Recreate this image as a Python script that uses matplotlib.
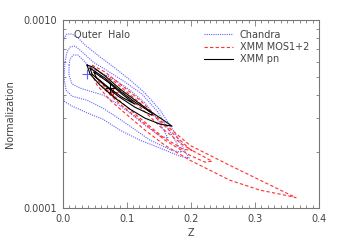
import matplotlib
matplotlib.use("Agg")
import matplotlib.pyplot as plt
from matplotlib.ticker import FixedLocator, MultipleLocator, NullFormatter

# contour outlines (z, normalization)
chandra_out_z = [0.0008, 0.0023, 0.007, 0.0148, 0.0242, 0.0351, 0.0585, 0.0819, 0.1053, 0.1287,
                 0.1521, 0.1754, 0.1926, 0.1973, 0.1832, 0.1521, 0.1209, 0.0897, 0.0632, 0.0398,
                 0.0148, 0.0023, 0.0008, 0.0008, 0.0008]
chandra_out_n = [7.36e-4, 8.02e-4, 8.42e-4, 8.42e-4, 8.02e-4, 7.36e-4, 6.36e-4, 5.55e-4, 4.80e-4, 4.09e-4,
                 3.32e-4, 2.51e-4, 1.96e-4, 1.85e-4, 1.89e-4, 2.09e-4, 2.30e-4, 2.60e-4, 2.97e-4, 3.20e-4,
                 3.49e-4, 3.71e-4, 4.24e-4, 6.13e-4, 7.36e-4]

chandra_mid_z = [0.0039, 0.007, 0.0117, 0.0195, 0.0273, 0.0476, 0.071, 0.0975, 0.124, 0.1489,
                 0.1708, 0.1864, 0.1708, 0.1365, 0.1053, 0.0819, 0.0632, 0.0382, 0.0148, 0.0055,
                 0.0023, 0.0039]
chandra_mid_n = [5.98e-4, 6.76e-4, 7.18e-4, 7.27e-4, 6.92e-4, 5.98e-4, 5.35e-4, 4.68e-4, 4.04e-4, 3.24e-4,
                 2.44e-4, 1.99e-4, 2.03e-4, 2.30e-4, 2.73e-4, 3.09e-4, 3.40e-4, 3.75e-4, 3.94e-4, 4.24e-4,
                 4.91e-4, 5.98e-4]

chandra_in_z = [0.0101, 0.0117, 0.0164, 0.0242, 0.032, 0.0429, 0.0585, 0.0819, 0.1053, 0.1287,
                0.1489, 0.1645, 0.1521, 0.1287, 0.1053, 0.0819, 0.0632, 0.0476, 0.0273, 0.0148,
                0.0101, 0.0101]
chandra_in_n = [5.76e-4, 6.20e-4, 6.51e-4, 6.51e-4, 6.13e-4, 5.62e-4, 5.29e-4, 4.80e-4, 4.24e-4, 3.62e-4,
                2.94e-4, 2.36e-4, 2.42e-4, 2.76e-4, 3.20e-4, 3.66e-4, 3.99e-4, 4.14e-4, 4.35e-4, 4.57e-4,
                5.10e-4, 5.76e-4]

mos_out_z = [0.046, 0.0663, 0.0897, 0.1209, 0.1521, 0.1988, 0.2612, 0.3236, 0.3641, 0.3501,
             0.308, 0.2612, 0.1988, 0.1598, 0.1287, 0.0975, 0.0741, 0.0538, 0.0444, 0.046]
mos_out_n = [5.76e-4, 5.29e-4, 4.57e-4, 3.75e-4, 2.94e-4, 2.16e-4, 1.69e-4, 1.33e-4, 1.14e-4, 1.17e-4,
             1.25e-4, 1.41e-4, 1.80e-4, 2.16e-4, 2.60e-4, 3.20e-4, 3.75e-4, 4.51e-4, 5.29e-4, 5.76e-4]

mos_mid_z = [0.0507, 0.0819, 0.1209, 0.1598, 0.1988, 0.2331, 0.2222, 0.1988, 0.1598, 0.1209,
             0.0897, 0.0632, 0.0522, 0.0507]
mos_mid_n = [5.49e-4, 4.68e-4, 3.62e-4, 2.73e-4, 2.06e-4, 1.78e-4, 1.76e-4, 1.91e-4, 2.30e-4, 2.94e-4,
             3.57e-4, 4.35e-4, 4.97e-4, 5.49e-4]

mos_in_z = [0.0585, 0.0897, 0.1209, 0.1552, 0.1864, 0.2019, 0.1879, 0.1552, 0.1209, 0.0897,
            0.0663, 0.0585, 0.0585]
mos_in_n = [5.04e-4, 4.24e-4, 3.44e-4, 2.66e-4, 2.19e-4, 2.03e-4, 2.06e-4, 2.41e-4, 3.01e-4, 3.71e-4,
            4.35e-4, 4.80e-4, 5.04e-4]

pn_out_z = [0.0382, 0.0476, 0.0663, 0.0897, 0.1131, 0.1365, 0.1598, 0.1708, 0.1521, 0.1287,
            0.1053, 0.0819, 0.0585, 0.0429, 0.0382]
pn_out_n = [5.76e-4, 5.62e-4, 5.04e-4, 4.30e-4, 3.75e-4, 3.28e-4, 2.90e-4, 2.73e-4, 2.80e-4, 3.01e-4,
            3.36e-4, 3.85e-4, 4.51e-4, 5.16e-4, 5.76e-4]

pn_mid_z = [0.0429, 0.0663, 0.0897, 0.1131, 0.1396, 0.1396, 0.1131, 0.0866, 0.0632, 0.046, 0.0429]
pn_mid_n = [5.55e-4, 4.91e-4, 4.19e-4, 3.66e-4, 3.20e-4, 3.12e-4, 3.44e-4, 3.94e-4, 4.57e-4, 5.16e-4, 5.55e-4]

pn_in_z = [0.0491, 0.071, 0.0928, 0.1131, 0.0928, 0.071, 0.0522, 0.0491]
pn_in_n = [5.29e-4, 4.68e-4, 4.04e-4, 3.57e-4, 3.89e-4, 4.40e-4, 4.97e-4, 5.29e-4]

# best fits
best_z = [0.038, 0.0788, 0.0741]
best_n = [5.16e-4, 4.14e-4, 4.35e-4]

labels = ["Chandra", "XMM MOS1+2", "XMM pn"]
colors = ["#6262ff", "#ff3030", "black"]
styles = [(0, (1, 1)), (0, (3, 2)), "-"]

fig = plt.figure(figsize=(3.38, 2.49), dpi=100)
ax = fig.add_axes([0.185, 0.163, 0.759, 0.757])

groups = [
    [(chandra_out_z, chandra_out_n), (chandra_mid_z, chandra_mid_n), (chandra_in_z, chandra_in_n)],
    [(mos_out_z, mos_out_n), (mos_mid_z, mos_mid_n), (mos_in_z, mos_in_n)],
    [(pn_out_z, pn_out_n), (pn_mid_z, pn_mid_n), (pn_in_z, pn_in_n)],
]
for k in range(3):
    for j, (zz, nn) in enumerate(groups[k]):
        ax.plot(zz, nn, color=colors[k], ls=styles[k], lw=0.8,
                label=labels[k] if j == 0 else None)
    ax.plot(best_z[k], best_n[k], marker="+", ms=7, mew=0.8, color=colors[k], ls="none")

ax.set_yscale("log")
ax.set_xlim(0, 0.4)
ax.set_ylim(1e-4, 1e-3)

grey = "#777777"
for s in ax.spines.values():
    s.set_color(grey)
    s.set_linewidth(0.8)
ax.xaxis.set_major_locator(MultipleLocator(0.1))
ax.xaxis.set_minor_locator(MultipleLocator(0.01))
ax.set_xticks([0.0, 0.1, 0.2, 0.3, 0.4])
ax.set_xticklabels(["0.0", "0.1", "0.2", "0.3", "0.4"])
ax.yaxis.set_major_locator(FixedLocator([1e-4, 1e-3]))
ax.set_yticks([1e-4, 1e-3])
ax.set_yticklabels(["0.0001", "0.0010"])
ax.yaxis.set_minor_locator(FixedLocator([m * 1e-4 for m in range(2, 10)]))
ax.yaxis.set_minor_formatter(NullFormatter())
ax.tick_params(which="both", direction="in", top=True, right=True, color=grey,
               labelsize=7, labelcolor="#444444", width=0.6)
ax.tick_params(which="major", length=4, pad=4)
ax.tick_params(which="minor", length=2)

ax.set_xlabel("Z", fontsize=7, color="#444444", labelpad=3)
ax.set_ylabel("Normalization", fontsize=7, color="#444444", labelpad=6)
ax.text(0.045, 0.92, "Outer  Halo", transform=ax.transAxes, fontsize=7, color="#444444", va="center")

ax.legend(loc="upper right", bbox_to_anchor=(0.995, 0.995), frameon=False, fontsize=7,
          handlelength=3.0, handletextpad=0.7, labelspacing=0.25, labelcolor="#444444")

fig.savefig("out.png", dpi=100)
